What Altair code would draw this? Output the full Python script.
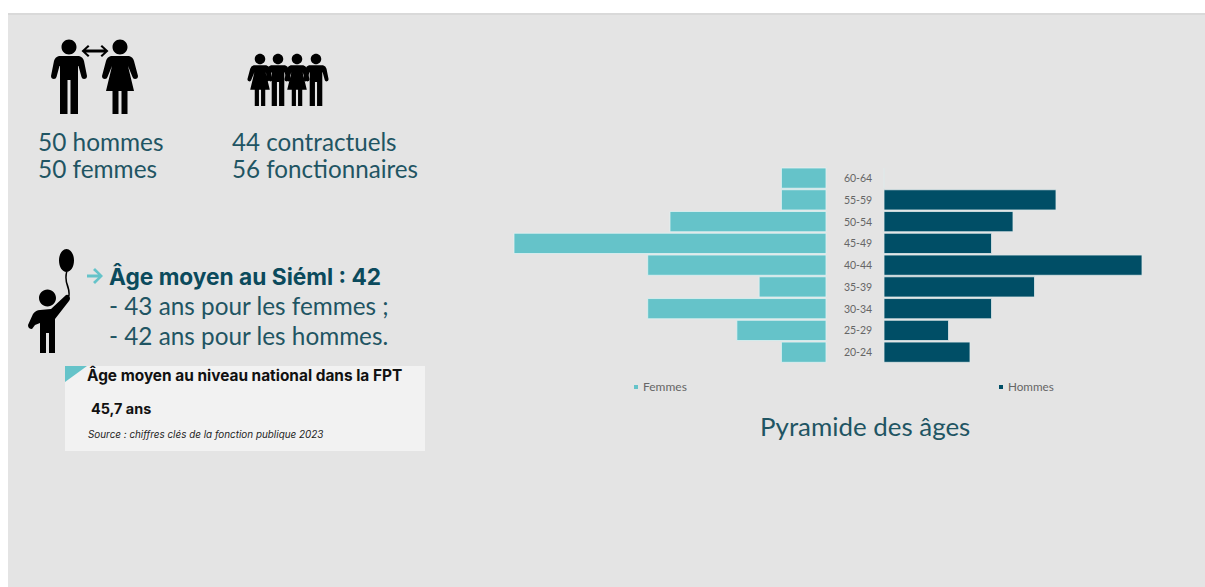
import altair as alt
import pandas as pd

# Age pyramid headcounts
ages = ["60-64", "55-59", "50-54", "45-49", "40-44", "35-39", "30-34", "25-29", "20-24"]
femmes = [2, 2, 7, 14, 8, 3, 8, 4, 2]
hommes = [0, 8, 6, 5, 12, 7, 5, 3, 4]

TEAL = "#65c3c9"
NAVY = "#004e66"
INK = "#1f5563"
FONT = "Lato"
WIDE = "Inter"

df_f = pd.DataFrame({"age": ages, "n": femmes})
df_h = pd.DataFrame({"age": ages, "n": hommes})
one = pd.DataFrame({"k": [0]})

y_scale = alt.Scale(domain=ages, range=[168, 362.3], paddingInner=0.07, paddingOuter=0)


def box(x0, x1, y0, y1, color):
    return alt.Chart(one).mark_rect(color=color).encode(
        x=alt.value(x0), x2=alt.value(x1), y=alt.value(y0), y2=alt.value(y1)
    )


def label(text, x, y, size, color=INK, weight="normal", style="normal", font=FONT, align="left"):
    return alt.Chart(pd.DataFrame({"t": [text]})).mark_text(
        align=align, baseline="alphabetic", fontSize=size, color=color,
        fontWeight=weight, fontStyle=style, font=font,
    ).encode(text="t:N", x=alt.value(x), y=alt.value(y))


def icon(path, x, y, scale=1.0, color="#000000"):
    # Symbol paths are written in local pixels; a size of 4 draws them 1:1
    return alt.Chart(one).mark_point(
        shape=path, filled=True, fill=color, stroke=None, opacity=1, size=4 * scale * scale
    ).encode(x=alt.value(x), y=alt.value(y))


HEAD = "M-7.5,-30 A7.5,7.5 0 1 1 7.5,-30 A7.5,7.5 0 1 1 -7.5,-30 Z "
MAN = HEAD + (
    "M-10,-21 L10,-21 Q14,-20 15,-16 L18,-1 Q18,2 15,2 Q13,2 12.5,0 L9.5,-11 L9,-11 "
    "L9,37 L1.5,37 L1.5,3 L-1.5,3 L-1.5,37 L-9,37 L-9,-11 L-9.5,-11 L-12.5,0 "
    "Q-13,2 -15,2 Q-18,2 -18,-1 L-15,-16 Q-14,-20 -10,-21 Z"
)
WOMAN = HEAD + (
    "M-9,-21 L9,-21 Q13,-20 14,-16 L18,-1 Q18,2 15,2 Q13,2 12.5,0 L8,-11 L14,14 L7.5,14 "
    "L7.5,37 L1.5,37 L1.5,14 L-1.5,14 L-1.5,37 L-7.5,37 L-7.5,14 L-14,14 L-8,-11 "
    "L-12.5,0 Q-13,2 -15,2 Q-18,2 -18,-1 L-14,-16 Q-13,-20 -9,-21 Z"
)
DOUBLE_ARROW = (
    "M-13.5,0 L-7,-6 L-5.5,-4.5 L-9,-1.5 L9,-1.5 L5.5,-4.5 L7,-6 L13.5,0 L7,6 L5.5,4.5 "
    "L9,1.5 L-9,1.5 L-5.5,4.5 L-7,6 Z"
)
CHILD = (
    # balloon
    "M11,-40.5 A7.5,11.5 0 1 1 26,-40.5 A7.5,11.5 0 1 1 11,-40.5 Z "
    # string
    "M18,-29.5 L19.5,-29.5 Q17.5,-22 20.5,-15 Q22.5,-9 21.5,-4 L20,-4 Q21,-9 19,-14 Q16,-22 18,-29.5 Z "
    # head
    "M-9,-3 A8.5,8.5 0 1 1 8,-3 A8.5,8.5 0 1 1 -9,-3 Z "
    # body, raised arm and legs
    "M-8,9 L3,8 L18,-6 Q21,-7 22,-3 Q22,-1 21,0 L7,18 L7,52 L1,52 L1,32 L-2,32 L-2,52 L-8,52 "
    "L-8,22 L-13,24 L-16,28 Q-20,28 -20,24 L-15,13 Q-12,9 -8,9 Z"
)
ARROW = "M-8,-1.5 L3,-1.5 L-2,-6 L0,-8 L8,0 L0,8 L-2,6 L3,1.5 L-8,1.5 Z"
FLAG = "M0,0 L22,0 L0,16 Z"
LEGEND_SQUARE = "M-2,-2 L2,-2 L2,2 L-2,2 Z"

bars_f = alt.Chart(df_f).mark_bar(color=TEAL, stroke="#dff1f2", strokeWidth=0.8).encode(
    x=alt.X("n:Q", scale=alt.Scale(domain=[0, 14], range=[826, 514]), axis=None),
    x2=alt.datum(0),
    y=alt.Y("age:N", scale=y_scale, sort=ages, axis=None),
)
bars_h = alt.Chart(df_h).mark_bar(color=NAVY, stroke="#dfe8ea", strokeWidth=0.8).encode(
    x=alt.X("n:Q", scale=alt.Scale(domain=[0, 12], range=[884, 1142]), axis=None),
    x2=alt.datum(0),
    y=alt.Y("age:N", scale=y_scale, sort=ages, axis=None),
)
age_labels = alt.Chart(df_f).mark_text(
    align="center", baseline="middle", fontSize=10.5, color="#666666", font=FONT, dy=1
).encode(
    text="age:N",
    x=alt.value(858),
    y=alt.Y("age:N", scale=y_scale, sort=ages, axis=None),
)

backdrop = [
    box(8, 1205, 14, 587, "#e4e4e4"),
    box(8, 1205, 13, 15, "#d9d9d9"),
    box(65, 425, 366, 451, "#f2f2f2"),
]

icons = [
    icon(MAN, 69, 77),
    icon(WOMAN, 120, 77),
    icon(DOUBLE_ARROW, 95, 51),
    icon(MAN, 316, 80, 0.7),
    icon(WOMAN, 297, 80, 0.7),
    icon(MAN, 278, 80, 0.7),
    icon(WOMAN, 260, 80, 0.7),
    icon(CHILD, 48, 301),
    icon(ARROW, 95, 276, 1.0, TEAL),
    icon(FLAG, 65, 366, 1.0, TEAL),
    icon(LEGEND_SQUARE, 636, 387, 1.0, TEAL),
    icon(LEGEND_SQUARE, 1001, 387, 1.0, NAVY),
]

texts = [
    label("50 hommes", 38, 151, 24.4),
    label("50 femmes", 38, 178, 24.4),
    label("44 contractuels", 232, 151, 24.2),
    label("56 fonctionnaires", 232, 178, 24.2),
    label("Âge moyen au Siéml : 42", 109, 285, 22.7, color="#0b4a5c", weight="bold", font=WIDE),
    label("- 43 ans pour les femmes ;", 109, 315, 24.3),
    label("- 42 ans pour les hommes.", 109, 345, 24.3),
    label("Âge moyen au niveau national dans la FPT", 87, 381, 15.4, color="#111111", weight="bold", font=WIDE),
    label("45,7 ans", 91, 414, 14.4, color="#111111", weight="bold", font=WIDE),
    label("Source : chiffres clés de la fonction publique 2023", 88, 438, 9.9, color="#222222", style="italic", font=WIDE),
    label("Femmes", 643, 391, 12, color="#666666"),
    label("Hommes", 1008, 391, 11.7, color="#666666"),
    label("Pyramide des âges", 760, 436, 25.9),
]

chart = alt.layer(
    *backdrop, bars_f, bars_h, age_labels, *icons, *texts
).resolve_scale(x="independent").properties(
    width=1205,
    height=587,
    padding=0,
    autosize=alt.AutoSizeParams(type="none"),
    background="#ffffff",
).configure_view(stroke=None)

chart.save("out.html", embed_options={"renderer": "svg", "actions": False})
